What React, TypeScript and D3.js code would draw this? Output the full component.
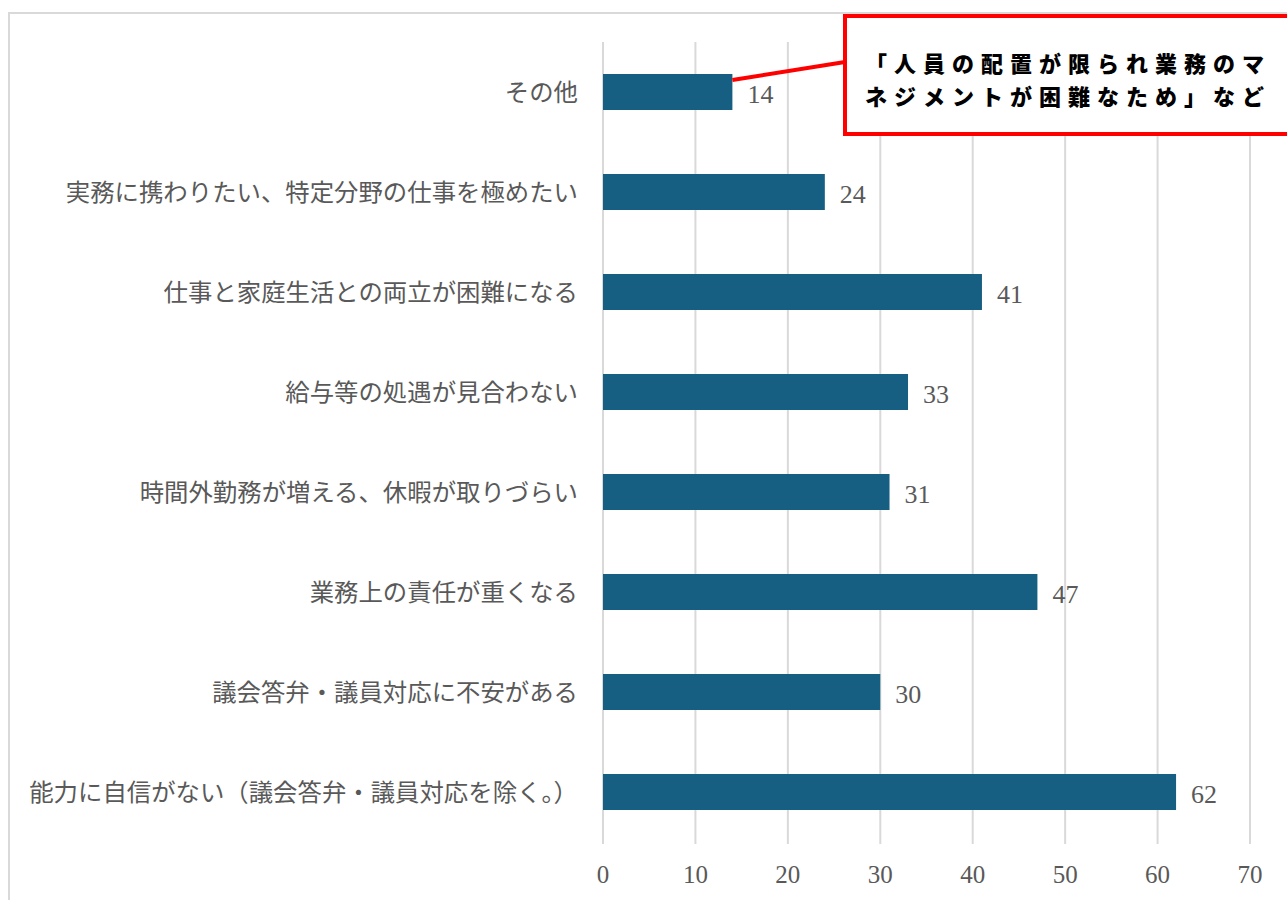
import React from "react";
import * as d3 from "d3";

const categories = [
  "その他",
  "実務に携わりたい、特定分野の仕事を極めたい",
  "仕事と家庭生活との両立が困難になる",
  "給与等の処遇が見合わない",
  "時間外勤務が増える、休暇が取りづらい",
  "業務上の責任が重くなる",
  "議会答弁・議員対応に不安がある",
  "能力に自信がない（議会答弁・議員対応を除く。）",
];
const values = [14, 24, 41, 33, 31, 47, 30, 62];
const ticks = [0, 10, 20, 30, 40, 50, 60, 70];
const noteLines = ["「人員の配置が限られ業務のマ", "ネジメントが困難なため」など"];

const W = 1287;
const H = 900;
const FONT = "'Liberation Serif', 'Noto Sans CJK JP', serif";

export default function App() {
  const x = d3.scaleLinear().domain([0, 70]).range([603, 1250]);
  const y = d3
    .scaleBand<string>()
    .domain(categories)
    .range([42, 842])
    .paddingInner(0.64)
    .paddingOuter(0.32);
  const bw = y.bandwidth();
  const first = categories[0];
  const lx1 = x(values[0]);
  const ly1 = (y(first) as number) + bw / 2 - 12;

  return (
    <svg
      width={W}
      height={H}
      style={{ position: "absolute", left: 0, top: 0, background: "#fff" }}
    >
      <rect x={9} y={13} width={W + 20} height={H + 20} fill="#fff" stroke="#d9d9d9" strokeWidth={2} />
      {ticks.map((t) => (
        <line key={"g" + t} x1={x(t)} x2={x(t)} y1={42} y2={844} stroke="#d9d9d9" strokeWidth={2} />
      ))}
      {categories.map((c, i) => (
        <g key={c}>
          <rect x={x(0)} y={y(c)} width={x(values[i]) - x(0)} height={bw} fill="#175f82" />
          <text
            x={578}
            y={(y(c) as number) + bw / 2}
            textAnchor="end"
            dominantBaseline="central"
            fontFamily={FONT}
            fontSize={24.4}
            fill="#595959"
          >
            {c}
          </text>
          <text
            x={x(values[i]) + 15}
            y={(y(c) as number) + bw / 2 + 2}
            dominantBaseline="central"
            fontFamily={FONT}
            fontSize={26}
            fill="#595959"
          >
            {values[i]}
          </text>
        </g>
      ))}
      {ticks.map((t) => (
        <text
          key={"t" + t}
          x={x(t)}
          y={874}
          textAnchor="middle"
          dominantBaseline="central"
          fontFamily={FONT}
          fontSize={25}
          fill="#595959"
        >
          {t}
        </text>
      ))}
      <line x1={lx1} y1={ly1} x2={845} y2={62} stroke="#ff0000" strokeWidth={4} />
      <rect x={845} y={16} width={480} height={118} fill="#fff" stroke="#ff0000" strokeWidth={4} />
      {noteLines.map((l, i) => (
        <text
          key={l}
          x={1068}
          y={62 + i * 33}
          textAnchor="middle"
          dominantBaseline="central"
          fontFamily="'Noto Sans CJK JP', sans-serif"
          fontWeight={900}
          fontSize={22}
          letterSpacing={7}
          fill="#000"
        >
          {l}
        </text>
      ))}
    </svg>
  );
}
